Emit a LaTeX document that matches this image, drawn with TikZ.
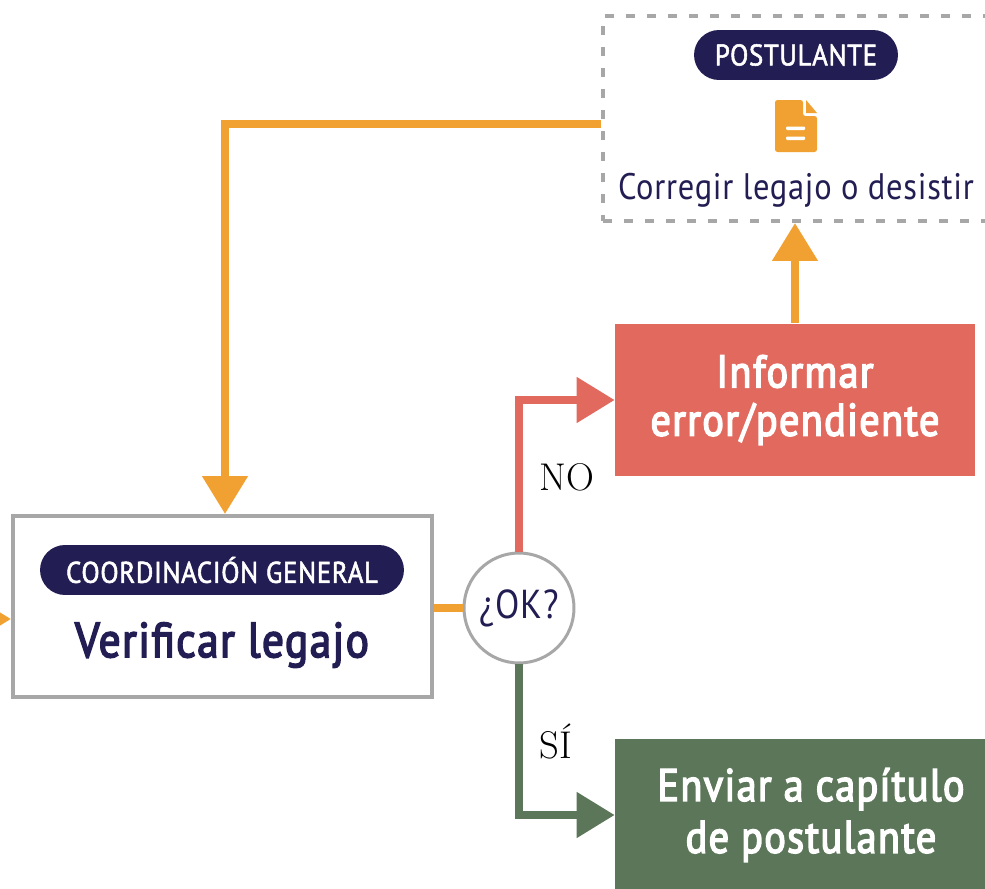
\documentclass[tikz,border=0pt]{standalone}
\usepackage{fontspec}
\usepackage{tikz}
\usetikzlibrary{arrows.meta, calc, positioning}
\newfontfamily\lbl[FakeStretch=0.88, LetterSpace=2]{PT Sans}
\newfontfamily\lblsemi[FakeStretch=0.88, LetterSpace=3, FakeBold=3.2]{PT Sans}
\newfontfamily\lblmed[FakeStretch=0.9, LetterSpace=2, FakeBold=1.8]{PT Sans}
\definecolor{navy}{HTML}{221D52}
\definecolor{naranja}{HTML}{F1A132}
\definecolor{rojo}{HTML}{E1695E}
\definecolor{verde}{HTML}{5B7658}
\definecolor{gris}{HTML}{A7A7A7}
\newcommand{\pill}[4]{
    \node[fill=navy, text=white, rounded corners=0.5cm, minimum width=#3, minimum height=1cm, inner sep=0cm, font=\lblmed\fontsize{17}{20}\selectfont] (#1) at (#2) {#4};
}
\newcommand{\bloque}[5]{
    \node[fill=#3, text=white, minimum width=#4, minimum height=3.06cm, inner sep=0cm, align=center, font=\lblsemi\fontsize{26}{27.5}\selectfont] (#1) at (#2) {#5};
}
\tikzset{
    flecha/.style={line width=0.16cm, -{Triangle[length=0.76cm, width=0.88cm]}},
    linea/.style={line width=0.16cm},
    rotulo/.style={anchor=west, inner sep=0cm, font=\fontsize{22}{24}\selectfont}
}

\begin{document}
\begin{tikzpicture}[x=0.02cm, y=-0.02cm]
    \useasboundingbox (0,0) rectangle (985,889);
    % cajas
    \node[draw=gris, line width=0.08cm, dash pattern=on 0.18cm off 0.24cm, minimum width=7.72cm, minimum height=4.1cm, inner sep=0cm] (post) at (796,118.5) {};
    \pill{ppost}{796,55}{4.08cm}{POSTULANTE}
    \node[text=navy, inner sep=0cm, font=\lbl\fontsize{21}{24}\selectfont] (corregir) at (796,190) {Corregir legajo o desistir};
    \fill[naranja, rounded corners=0.05cm] (775,100) -- (803,100) -- (803,116) -- (817,116) -- (817,152) -- (775,152) -- cycle;
    \fill[naranja] (806,100) -- (806,113) -- (817,113) -- cycle;
    \fill[white, rounded corners=0.02cm] (786,126.5) rectangle (805,130) (786,136.5) rectangle (805,140);
    \node[draw=gris, line width=0.08cm, fill=white, minimum width=8.38cm, minimum height=3.62cm, inner sep=0cm] (ver) at (222.5,606.5) {};
    \pill{pcoord}{222,570}{7.28cm}{COORDINACIÓN GENERAL}
    \node[text=navy, inner sep=0cm, font=\lblsemi\fontsize{28}{30}\selectfont] (verificar) at (222,645) {Verificar legajo};
    \bloque{inf}{795,400}{rojo}{7.2cm}{Informar\\error/pendiente}
    \bloque{env}{811,815}{verde}{7.84cm}{Enviar a capítulo\\[0.07cm]de postulante}
    \node[draw=gris, line width=0.06cm, fill=white, circle, minimum size=2.2cm, inner sep=0cm, text=navy, font=\lbl\fontsize{23}{25}\selectfont] (ok) at (519,608) {¿OK?};
    \node[rotulo] (no) at (539,477) {NO};
    \node[rotulo] (si) at (539,742) {SÍ};
    % conectores
    \coordinate (quiebre) at (225,124);
    \coordinate (entrada) at (-60,619);
    \draw[flecha, naranja] (quiebre -| post.west) -- (quiebre) -- (quiebre |- ver.north);
    \draw[flecha, naranja] (inf.north) -- (inf.north |- post.south);
    \draw[flecha, naranja] (entrada) -- (entrada -| ver.west);
    \draw[linea, naranja] (ver.east |- ok.west) -- (ok.west);
    \draw[flecha, rojo] (ok.north) |- (inf.west);
    \draw[flecha, verde] (ok.south) |- (env.west);
\end{tikzpicture}
\end{document}
